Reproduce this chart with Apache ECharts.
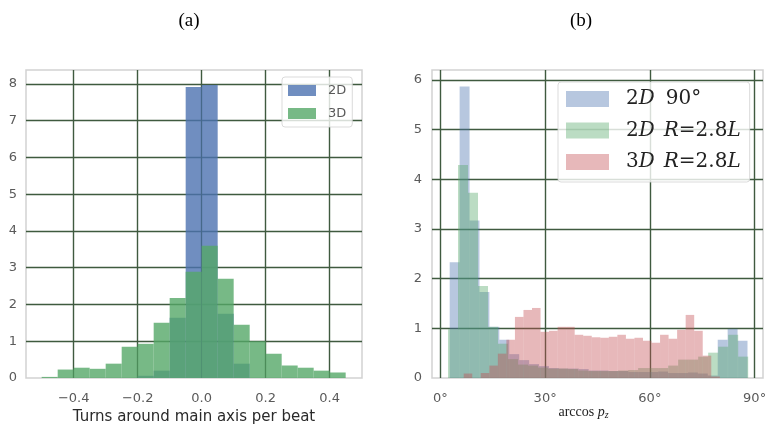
<!DOCTYPE html>
<html>
<head>
<meta charset="utf-8">
<script src="https://cdn.jsdelivr.net/npm/echarts@6/dist/echarts.min.js"></script>
<style>
  html, body { margin: 0; padding: 0; background: #fff; }
  #chart { width: 766px; height: 428px; }
</style>
</head>
<body>
<div id="chart"></div>
<script>
// ---- Panel (a): turns around main axis per beat (density histograms) ----
const aBinWidth = 0.05;
const a2dStart = -0.20;
const a2dDensity = [0.06, 0.20, 1.64, 7.92, 7.97, 1.75, 0.39];
const a3dStart = -0.50;
const a3dDensity = [0.03, 0.23, 0.28, 0.25, 0.39, 0.85, 0.93, 1.50, 2.18, 2.89,
                    3.60, 2.70, 1.45, 1.00, 0.66, 0.34, 0.28, 0.20, 0.15];

// ---- Panel (b): arccos p_z in degrees (density histograms) ----
const b2d90Start = 2.67, b2d90Width = 2.843;
const b2d90Density = [2.33, 5.87, 3.17, 1.73, 1.03, 0.77, 0.48, 0.36, 0.28, 0.24,
                      0.20, 0.19, 0.19, 0.18, 0.15, 0.15, 0.14, 0.14, 0.12, 0.12,
                      0.12, 0.13, 0.10, 0.10, 0.11, 0.09, 0.05, 0.77, 0.99, 0.75];
const b2dRStart = 2.18, b2dRWidth = 2.866;
const b2dRDensity = [0.98, 4.29, 3.73, 1.85, 1.03, 0.69, 0.38, 0.27, 0.25, 0.21,
                     0.19, 0.19, 0.18, 0.15, 0.14, 0.14, 0.14, 0.15, 0.16, 0.20,
                     0.20, 0.20, 0.25, 0.37, 0.37, 0.43, 0.51, 0.63, 0.87, 0.43];
const b3dRStart = 6.68, b3dRWidth = 2.445;
const b3dRDensity = [0.09, 0.00, 0.10, 0.25, 0.49, 0.77, 1.23, 1.37, 1.41, 0.93,
                     0.95, 1.03, 1.03, 0.87, 0.85, 0.82, 0.81, 0.83, 0.87, 0.79,
                     0.81, 0.75, 0.71, 0.87, 0.79, 0.97, 1.27, 0.95, 0.45, 0.03];

// turn (start, width, heights) into [left edge, right edge, height] rows
function bins(start, width, heights) {
  return heights.map((h, i) => [start + i * width, start + (i + 1) * width, h]);
}

function renderBin(params, api) {
  const top = api.coord([api.value(0), api.value(2)]);
  const base = api.coord([api.value(1), 0]);
  return {
    type: 'rect',
    shape: { x: top[0], y: top[1], width: base[0] - top[0], height: base[1] - top[1] },
    style: api.style()
  };
}

function histSeries(name, data, color, axisIndex) {
  return {
    name: name,
    type: 'custom',
    xAxisIndex: axisIndex,
    yAxisIndex: axisIndex,
    renderItem: renderBin,
    itemStyle: { color: color },
    encode: { x: [0, 1], y: 2 },
    clip: true,
    data: data
  };
}

const gridLine = { show: true, showMinLine: false, showMaxLine: false,
                   lineStyle: { color: '#3f5a3f', width: 1.4 } };
const tickFont = { color: '#5a5a5a', fontSize: 13, fontFamily: 'DejaVu Sans' };
const serif = 'DejaVu Serif';
const mathRich = {
  n: { fontFamily: serif, fontSize: 20, color: '#222', lineHeight: 22 },
  i: { fontFamily: serif, fontStyle: 'italic', fontSize: 20, color: '#222', lineHeight: 22 },
  ni: { fontFamily: serif, fontStyle: 'italic', fontSize: 20, color: '#222', lineHeight: 22, padding: [0, 0, 0, 9] },
  nn: { fontFamily: serif, fontSize: 20, color: '#222', lineHeight: 22, padding: [0, 0, 0, 11] }
};
const mathLabels = {
  '2D 90°': '{n|2}{i|D}{nn|90°}',
  '2D R=2.8L': '{n|2}{i|D}{ni|R}{n|=2.8}{i|L}',
  '3D R=2.8L': '{n|3}{i|D}{ni|R}{n|=2.8}{i|L}'
};

const chart = echarts.init(document.getElementById('chart'), null, { renderer: 'canvas' });
chart.setOption({
  animation: false,
  backgroundColor: '#fff',
  title: [
    { text: '(a)', left: 184, top: 7, textAlign: 'center',
      textStyle: { fontFamily: 'Liberation Serif', fontSize: 19, fontWeight: 'normal', color: '#000' } },
    { text: '(b)', left: 576, top: 7, textAlign: 'center',
      textStyle: { fontFamily: 'Liberation Serif', fontSize: 19, fontWeight: 'normal', color: '#000' } }
  ],
  grid: [
    { left: 26, top: 70, width: 336, height: 308, show: true, outerBoundsMode: 'none',
      borderColor: '#d2d2d2', borderWidth: 1.5, backgroundColor: '#fff' },
    { left: 432, top: 70, width: 331, height: 308, show: true, outerBoundsMode: 'none',
      borderColor: '#d2d2d2', borderWidth: 1.5, backgroundColor: '#fff' }
  ],
  xAxis: [
    { type: 'value', gridIndex: 0, min: -0.549, max: 0.501,
      splitNumber: 5, minInterval: 0.2, maxInterval: 0.2,
      axisLine: { show: false }, axisTick: { show: false },
      axisLabel: Object.assign({ margin: 14, showMinLabel: false, showMaxLabel: false,
        formatter: v => (v < -1e-9 ? '\u2212' + Math.abs(v).toFixed(1) : Math.abs(v).toFixed(1)) }, tickFont),
      splitLine: gridLine,
      name: 'Turns around main axis per beat', nameLocation: 'middle', nameGap: 32,
      nameMoveOverlap: false,
      nameTextStyle: { fontSize: 15, color: '#2a2a2a', fontFamily: 'DejaVu Sans' } },
    { type: 'value', gridIndex: 1, min: -2.4, max: 92.4,
      splitNumber: 3, minInterval: 30, maxInterval: 30,
      axisLine: { show: false }, axisTick: { show: false },
      axisLabel: Object.assign({ margin: 14, showMinLabel: false, showMaxLabel: false,
        formatter: v => Math.round(v) + '°' }, tickFont),
      splitLine: gridLine,
      name: '{r|arccos }{i|p}{s|z}', nameLocation: 'middle', nameGap: 26,
      nameMoveOverlap: false,
      nameTextStyle: { padding: [0, 28, 0, 0], rich: {
        r: { fontFamily: 'Liberation Serif', fontSize: 14, color: '#222', lineHeight: 16 },
        i: { fontFamily: 'Liberation Serif', fontStyle: 'italic', fontSize: 14, color: '#222', lineHeight: 16 },
        s: { fontFamily: 'Liberation Serif', fontStyle: 'italic', fontSize: 10, color: '#222',
             lineHeight: 8, verticalAlign: 'bottom' }
      } } }
  ],
  yAxis: [
    { type: 'value', gridIndex: 0, min: 0, max: 8.38, interval: 1,
      axisLine: { show: false }, axisTick: { show: false },
      axisLabel: Object.assign({ margin: 9, showMaxLabel: false }, tickFont),
      splitLine: gridLine },
    { type: 'value', gridIndex: 1, min: 0, max: 6.2, interval: 1,
      axisLine: { show: false }, axisTick: { show: false },
      axisLabel: Object.assign({ margin: 10, showMaxLabel: false }, tickFont),
      splitLine: gridLine }
  ],
  legend: [
    { data: ['2D', '3D'], left: 282, top: 77, orient: 'vertical', icon: 'rect',
      itemWidth: 28, itemHeight: 11, itemGap: 10, padding: [7, 6, 7, 6],
      backgroundColor: 'rgba(255,255,255,0.8)', borderColor: 'rgba(210,210,210,0.8)',
      borderWidth: 1, borderRadius: 3,
      textStyle: { color: '#5a5a5a', fontSize: 13, fontFamily: 'DejaVu Sans', padding: [0, 0, 0, 7] } },
    { data: ['2D 90°', '2D R=2.8L', '3D R=2.8L'], left: 558, top: 82, orient: 'vertical', icon: 'rect',
      itemWidth: 43, itemHeight: 16, itemGap: 9.5, padding: [6, 9, 9, 8],
      backgroundColor: 'rgba(255,255,255,0.8)', borderColor: 'rgba(210,210,210,0.8)',
      borderWidth: 1, borderRadius: 3,
      formatter: name => mathLabels[name],
      textStyle: { padding: [0, 0, 0, 12], lineHeight: 22, rich: mathRich } }
  ],
  series: [
    histSeries('2D', bins(a2dStart, aBinWidth, a2dDensity), 'rgba(76,114,176,0.8)', 0),
    histSeries('3D', bins(a3dStart, aBinWidth, a3dDensity), 'rgba(85,168,104,0.8)', 0),
    histSeries('2D 90°', bins(b2d90Start, b2d90Width, b2d90Density), 'rgba(76,114,176,0.4)', 1),
    histSeries('2D R=2.8L', bins(b2dRStart, b2dRWidth, b2dRDensity), 'rgba(85,168,104,0.4)', 1),
    histSeries('3D R=2.8L', bins(b3dRStart, b3dRWidth, b3dRDensity), 'rgba(196,78,82,0.4)', 1)
  ]
});
</script>
</body>
</html>
